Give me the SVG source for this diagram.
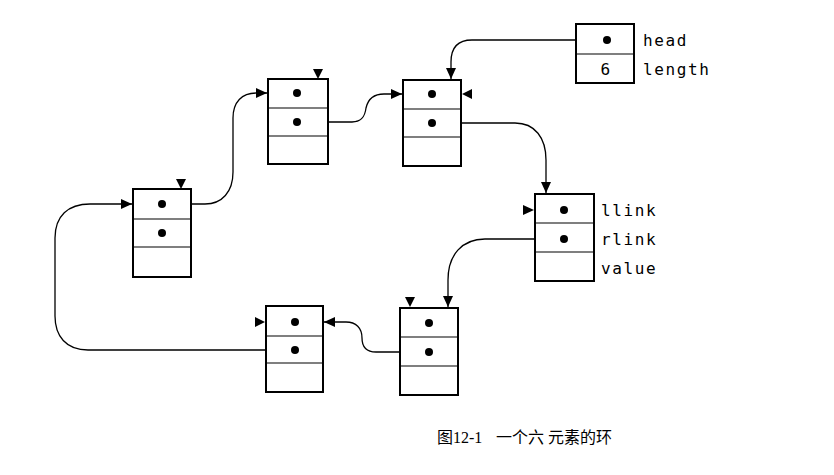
<svg xmlns="http://www.w3.org/2000/svg" width="834" height="475" viewBox="0 0 834 475">
<style>
.box{fill:#fff;stroke:#000;stroke-width:2}
.div{stroke:#000;stroke-width:1.2}
.dot{fill:#000}
.tri{fill:#000}
.conn{fill:none;stroke:#000;stroke-width:1.3}
.lbl{font-family:"DejaVu Sans Mono","Liberation Mono",monospace;font-size:16px;letter-spacing:1.6px;fill:#000}
.cap{font-family:"Liberation Serif","Noto Sans CJK SC",serif;font-size:16px;fill:#000}
</style>
<defs>
<marker id="arr" markerUnits="userSpaceOnUse" markerWidth="12" markerHeight="10" refX="11" refY="5" orient="auto">
<path d="M0,0 L11,5 L0,10 Z" fill="#000"/>
</marker>
</defs>
<rect width="834" height="475" fill="#fff"/>

<g id="connectors">
<path class="conn" marker-end="url(#arr)" d="M607,40 H472 C458,40 451,48 451,62 V79"/>
<path class="conn" marker-end="url(#arr)" d="M432,123 H515 C535,123 546,138 546,160 V193"/>
<path class="conn" marker-end="url(#arr)" d="M564,239 H485 C462,239 448,255 448,280 V307"/>
<path class="conn" marker-end="url(#arr)" d="M429,352 H376 C366,352 362,346 362,338 C362,328 356,322 346,322 H324"/>
<path class="conn" marker-end="url(#arr)" d="M295,350 H88 C66,350 55,336 55,316 V238 C55,216 68,204 90,204 H132"/>
<path class="conn" marker-end="url(#arr)" d="M162,204 H205 C222,204 233,192 233,172 V118 C233,102 242,93 256,93 H267"/>
<path class="conn" marker-end="url(#arr)" d="M297,122 H352 C362,122 365,116 366,108 C368,99 373,94 384,94 H402"/>
</g>

<g id="head">
<rect class="box" x="576" y="24" width="58" height="59"/>
<line class="div" x1="576" y1="54" x2="634" y2="54"/>
<circle class="dot" cx="607" cy="40" r="4"/>
<text class="lbl" x="606" y="75" text-anchor="middle">6</text>
<text class="lbl" x="643" y="46">head</text>
<text class="lbl" x="643" y="75">length</text>
</g>

<g id="nodeA">
<rect class="box" x="268" y="79" width="60" height="85"/>
<line class="div" x1="268" y1="108" x2="328" y2="108"/>
<line class="div" x1="268" y1="136" x2="328" y2="136"/>
<circle class="dot" cx="297" cy="93" r="4"/>
<circle class="dot" cx="297" cy="122" r="4"/>
<polygon class="tri" points="313,69 323,69 318,79"/>
</g>

<g id="nodeB">
<rect class="box" x="133" y="189" width="58" height="88"/>
<line class="div" x1="133" y1="219" x2="191" y2="219"/>
<line class="div" x1="133" y1="247" x2="191" y2="247"/>
<circle class="dot" cx="162" cy="204" r="4"/>
<circle class="dot" cx="162" cy="233" r="4"/>
<polygon class="tri" points="176,179 186,179 181,189"/>
</g>

<g id="nodeC">
<rect class="box" x="403" y="80" width="58" height="86"/>
<line class="div" x1="403" y1="109" x2="461" y2="109"/>
<line class="div" x1="403" y1="137" x2="461" y2="137"/>
<circle class="dot" cx="432" cy="94" r="4"/>
<circle class="dot" cx="432" cy="123" r="4"/>
<polygon class="tri" points="472,89 472,99 462,94"/>
</g>

<g id="nodeD">
<rect class="box" x="535" y="194" width="59" height="87"/>
<line class="div" x1="535" y1="223" x2="594" y2="223"/>
<line class="div" x1="535" y1="252" x2="594" y2="252"/>
<circle class="dot" cx="564" cy="210" r="4"/>
<circle class="dot" cx="564" cy="239" r="4"/>
<polygon class="tri" points="523,205 523,215 534,210"/>
<text class="lbl" x="601" y="216">llink</text>
<text class="lbl" x="601" y="245">rlink</text>
<text class="lbl" x="601" y="274">value</text>
</g>

<g id="nodeE">
<rect class="box" x="266" y="306" width="57" height="86"/>
<line class="div" x1="266" y1="336" x2="323" y2="336"/>
<line class="div" x1="266" y1="363" x2="323" y2="363"/>
<circle class="dot" cx="295" cy="322" r="4"/>
<circle class="dot" cx="295" cy="350" r="4"/>
<polygon class="tri" points="255,317 255,327 265,322"/>
</g>

<g id="nodeF">
<rect class="box" x="400" y="308" width="58" height="87"/>
<line class="div" x1="400" y1="337" x2="458" y2="337"/>
<line class="div" x1="400" y1="366" x2="458" y2="366"/>
<circle class="dot" cx="429" cy="323" r="4"/>
<circle class="dot" cx="429" cy="352" r="4"/>
<polygon class="tri" points="405,297 415,297 410,307"/>
</g>

<g id="caption">
<text class="cap" x="437" y="443">图12-1</text>
<text class="cap" x="496" y="443">一个六 元素的环</text>
</g>
</svg>
